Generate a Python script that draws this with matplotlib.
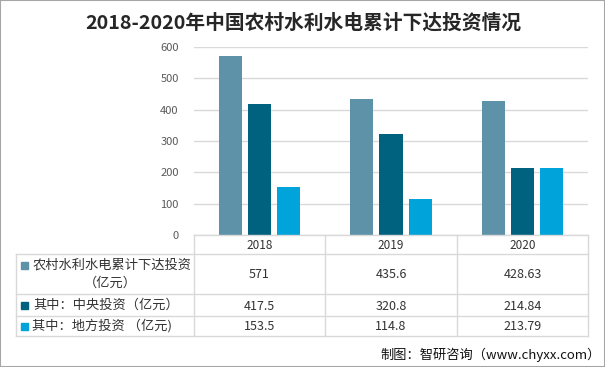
import matplotlib

matplotlib.use("Agg")
import matplotlib.pyplot as plt
from matplotlib.patches import Rectangle

plt.rcParams["font.family"] = ["Noto Sans CJK SC", "DejaVu Sans"]

TITLE = "2018-2020年中国农村水利水电累计下达投资情况"
SOURCE = "制图：智研咨询（www.chyxx.com）"

years = ["2018", "2019", "2020"]
series_names = ["农村水利水电累计下达投资\n（亿元）", "其中：中央投资（亿元）", "其中：地方投资 （亿元)"]
total = [571, 435.6, 428.63]
central = [417.5, 320.8, 214.84]
local = [153.5, 114.8, 213.79]
value_labels = [["571", "435.6", "428.63"],
                ["417.5", "320.8", "214.84"],
                ["153.5", "114.8", "213.79"]]
colors = ["#5e92a8", "#00627f", "#00a3da"]
yticks = [0, 100, 200, 300, 400, 500, 600]

W, H = 605, 367


def fx(px):
    return px / W


def fy(py):
    return 1 - py / H


fig = plt.figure(figsize=(W / 100, H / 100), dpi=100)

x0, x1, ytop, ybase = 194, 588, 47, 235
ax = fig.add_axes([fx(x0), fy(ybase), fx(x1) - fx(x0), (ybase - ytop) / H])
ax.patch.set_alpha(0)

bw = 23 / 131
step = 29 / 131
xs = [i + 0.5 for i in range(len(years))]
for k, vals in enumerate([total, central, local]):
    ax.bar([x + (k - 1) * step for x in xs], vals, width=bw, color=colors[k], zorder=3)

ax.set_xlim(0, 3)
ax.set_ylim(0, 600)
ax.set_yticks(yticks)
ax.set_yticklabels([str(t) for t in yticks], fontsize=8, color="#595959")
ax.tick_params(axis="y", length=0, pad=11)
ax.set_xticks([])
ax.grid(axis="y", color="#d9d9d9", linewidth=1, zorder=0)
for s in ax.spines.values():
    s.set_visible(False)

# data table under the plot
line_c = "#d9d9d9"
cols = [194, 325, 457, 588]
rows = [235, 254, 294, 316, 336]
tl = 16


def hline(y, xa, xb):
    fig.add_artist(plt.Line2D([fx(xa), fx(xb)], [fy(y), fy(y)], color=line_c, lw=1))


def vline(x, ya, yb):
    fig.add_artist(plt.Line2D([fx(x), fx(x)], [fy(ya), fy(yb)], color=line_c, lw=1))


hline(rows[0], cols[0], cols[-1])
for r in rows[1:]:
    hline(r, tl, cols[-1])
for c in cols:
    vline(c, rows[0], rows[-1])
vline(tl, rows[1], rows[-1])

for j, yr in enumerate(years):
    cx = (cols[j] + cols[j + 1]) / 2
    fig.text(fx(cx), fy((rows[0] + rows[1]) / 2 + 1), yr, ha="center", va="center",
             fontsize=8.5, color="#333333")

for i, name in enumerate(series_names):
    yc = (rows[i + 1] + rows[i + 2]) / 2
    sy = rows[i + 1] + 11 if i == 0 else yc
    fig.add_artist(Rectangle((fx(21), fy(sy + 3.5)), 7 / W, 7 / H, color=colors[i],
                             transform=fig.transFigure))
    if i == 0:
        lines = name.split("\n")
        fig.text(fx(33), fy(rows[1] + 11), lines[0], ha="left", va="center",
                 fontsize=9.5, color="#333333")
        fig.text(fx(110), fy(rows[1] + 29), lines[1], ha="center", va="center",
                 fontsize=9.5, color="#333333")
    else:
        fig.text(fx(33 if i == 1 else 32), fy(yc), name, ha="left", va="center",
                 fontsize=9.5, color="#333333")
    for j in range(len(years)):
        cx = (cols[j] + cols[j + 1]) / 2
        fig.text(fx(cx), fy(yc + 1), value_labels[i][j], ha="center", va="center",
                 fontsize=9, color="#333333")

fig.text(fx(303), fy(23), TITLE, ha="center", va="center", fontsize=14.2, fontweight="bold",
         color="#262626")
fig.text(fx(601), fy(355), SOURCE, ha="right", va="center", fontsize=9.5, color="#111111")

fig.add_artist(Rectangle((0, 0), 1, 1, fill=False, edgecolor="#a6a6a6", lw=1.5,
                         transform=fig.transFigure))

fig.savefig("out.png", dpi=100)
